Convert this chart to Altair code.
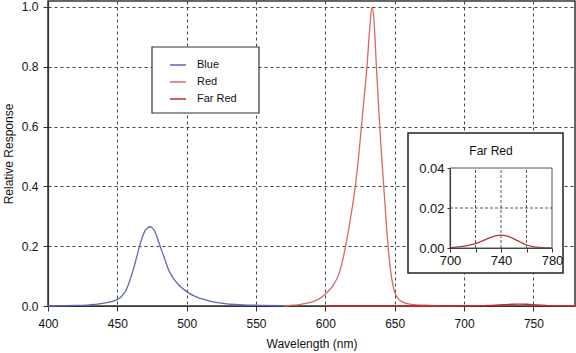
import altair as alt
import pandas as pd

series_names = ["Blue", "Red", "Far Red"]
series_colors = ["#5b68bd", "#de6666", "#d42632"]
inset_color = "#a83c3c"

blue_nm = [400, 410, 420, 430, 437, 443, 447, 450, 453, 456, 459, 462, 464, 466, 468, 470, 472, 473.5,
           475, 477, 479, 481, 484, 487, 490, 494, 500, 506, 514, 520, 526, 535, 545, 555, 570]
blue_val = [0.0, 0.001, 0.002, 0.004, 0.007, 0.012, 0.016, 0.022, 0.032, 0.05, 0.085, 0.13, 0.165, 0.2,
            0.23, 0.252, 0.262, 0.265, 0.262, 0.25, 0.225, 0.198, 0.16, 0.12, 0.095, 0.072, 0.048, 0.032,
            0.02, 0.013, 0.009, 0.005, 0.003, 0.002, 0.001]

red_nm = [570, 575, 580, 585, 590, 595, 600, 605, 610, 614.6, 618, 621.6, 624, 626, 628, 630, 632, 633.6,
          635, 636.8, 638, 639.2, 640.6, 642.1, 643.6, 645.2, 647, 650, 653, 656, 660, 665, 670, 675, 680]
red_val = [0.0, 0.002, 0.004, 0.008, 0.013, 0.022, 0.04, 0.065, 0.11, 0.2, 0.29, 0.4, 0.5, 0.6, 0.7, 0.8,
           0.93, 1.0, 0.96, 0.8, 0.7, 0.6, 0.5, 0.4, 0.3, 0.2, 0.12, 0.045, 0.022, 0.013, 0.007, 0.004,
           0.003, 0.002, 0.001]

farred_nm = [600, 650, 690, 700, 705, 710, 715, 720, 725, 730, 735, 740, 745, 750, 755, 760, 765, 770, 775, 780]
farred_val = [0.0, 0.0, 0.0, 0.0001, 0.0004, 0.0008, 0.0014, 0.0022, 0.0034, 0.0048, 0.0059, 0.0064,
              0.0059, 0.0046, 0.003, 0.0015, 0.0007, 0.0003, 0.0001, 0.0]

main_x_ticks = [400, 450, 500, 550, 600, 650, 700, 750]
main_y_ticks = [0.0, 0.2, 0.4, 0.6, 0.8, 1.0]
inset_x_ticks = [700, 720, 740, 760, 780]
inset_y_ticks = [0.0, 0.02, 0.04]
inset_grid_x = [720, 740, 760]
inset_grid_y = [0.02]

rows = []
for name, xs, ys in [("Blue", blue_nm, blue_val), ("Red", red_nm, red_val), ("Far Red", farred_nm, farred_val)]:
    rows += [{"series": name, "nm": x, "value": y} for x, y in zip(xs, ys)]
df = pd.DataFrame(rows)
inset_df = pd.DataFrame({"nm": farred_nm, "value": farred_val})
inset_df = inset_df[inset_df["nm"] >= 700]

FONT = "Liberation Sans"

main = alt.Chart(df).mark_line(strokeWidth=1.3, interpolate="monotone").encode(
    x=alt.X("nm:Q", scale=alt.Scale(domain=[400, 780], nice=False, zero=False),
            axis=alt.Axis(values=main_x_ticks, title="Wavelength (nm)", labelPadding=7, titlePadding=9,
                          grid=True, labelFlush=False)),
    y=alt.Y("value:Q", scale=alt.Scale(domain=[0, 1.02], nice=False),
            axis=alt.Axis(values=main_y_ticks, format=".1f", title="Relative Response", labelPadding=5,
                          titlePadding=6, grid=True, labelFlush=False)),
    color=alt.Color("series:N", scale=alt.Scale(domain=series_names, range=series_colors),
                    legend=alt.Legend(title=None, orient="none", legendX=121, legendY=55, padding=0,
                                      symbolType="stroke", symbolSize=256, symbolStrokeWidth=1.5,
                                      labelFontSize=11, labelFont=FONT, labelOffset=10, rowPadding=3,
                                      labelColor="#111")),
)

one = pd.DataFrame({"a": [0]})
legend_box = alt.Chart(one).mark_rect(fill="white", stroke="#333", strokeWidth=1.2).encode(
    x=alt.value(104), x2=alt.value(211), y=alt.value(46), y2=alt.value(112))
inset_box = alt.Chart(one).mark_rect(fill="white", stroke="#222", strokeWidth=1.5).encode(
    x=alt.value(360), x2=alt.value(515), y=alt.value(132), y2=alt.value(272))

ix = alt.Scale(domain=[700, 780], range=[402, 504], nice=False, zero=False)
iy = alt.Scale(domain=[0, 0.04], range=[247, 167], nice=False, zero=False)

gx = pd.DataFrame({"gx": inset_grid_x, "y0": [0.0] * 3, "y1": [0.04] * 3})
gy = pd.DataFrame({"gy": inset_grid_y, "x0": [700], "x1": [780]})
inset_gx = alt.Chart(gx).mark_rule(color="#555", strokeDash=[3, 2], strokeWidth=1).encode(
    x=alt.X("gx:Q", scale=ix, axis=None), y=alt.Y("y0:Q", scale=iy, axis=None), y2="y1:Q")
inset_gy = alt.Chart(gy).mark_rule(color="#555", strokeDash=[3, 2], strokeWidth=1).encode(
    y=alt.Y("gy:Q", scale=iy, axis=None), x=alt.X("x0:Q", scale=ix, axis=None), x2="x1:Q")
frame = pd.DataFrame({"x0": [700], "x1": [780], "y0": [0.0], "y1": [0.04]})
inset_frame = alt.Chart(frame).mark_rect(fillOpacity=0, stroke="#555", strokeWidth=1).encode(
    x=alt.X("x0:Q", scale=ix, axis=None), x2="x1:Q", y=alt.Y("y0:Q", scale=iy, axis=None), y2="y1:Q")

inset_line = alt.Chart(inset_df).mark_line(color=inset_color, strokeWidth=1.3, interpolate="monotone").encode(
    x=alt.X("nm:Q", scale=ix,
            axis=alt.Axis(orient="bottom", offset=-58, values=inset_x_ticks, grid=False, title=None,
                          labelExpr="(datum.value - 700) % 40 == 0 ? datum.label : ''",
                          tickSize=4, labelPadding=2, labelFontSize=13, zindex=1, domainColor="#444",
                          labelFlush=False, labelOverlap=False)),
    y=alt.Y("value:Q", scale=iy,
            axis=alt.Axis(orient="left", offset=-402, values=inset_y_ticks, format=".2f", grid=False,
                          title=None, tickSize=3, labelPadding=3, labelFontSize=13, zindex=1,
                          domainColor="#444", labelFlush=False, labelOverlap=False)),
)
inset_title = alt.Chart(one).mark_text(text="Far Red", fontSize=12, font=FONT, color="#111",
                                       baseline="middle", align="center").encode(
    x=alt.value(443), y=alt.value(150))

chart = alt.layer(main, legend_box, inset_box, inset_gx, inset_gy, inset_frame, inset_line, inset_title).resolve_scale(
    x="independent", y="independent"
).properties(
    width=527, height=305, autosize="none",
    padding={"left": 48, "top": 1, "right": 1, "bottom": 47},
).configure(font=FONT).configure_view(
    stroke="#333", strokeWidth=1.5
).configure_axis(
    gridDash=[3, 3], gridColor="#444", gridOpacity=1, gridWidth=1,
    domainColor="#333", domainWidth=1.2, tickColor="#333", tickSize=5,
    labelFontSize=12, labelColor="#111", titleFontSize=12, titleFontWeight="normal",
    titleColor="#111", labelFont=FONT, titleFont=FONT,
)

chart.save("out.html", embed_options={"renderer": "svg", "actions": False})
